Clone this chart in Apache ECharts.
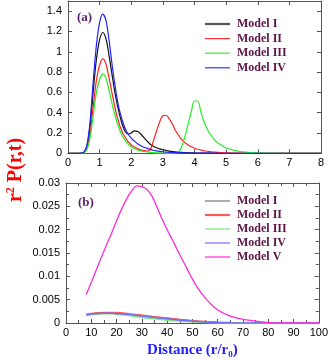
<!DOCTYPE html>
<html>
<head>
<meta charset="utf-8">
<script src="https://cdn.jsdelivr.net/npm/echarts@6/dist/echarts.min.js"></script>
<style>html,body{margin:0;padding:0;background:#fff;}#c{width:331px;height:360px;}</style>
</head>
<body>
<div id="c"></div>
<script>
// ---- Panel (a) data ----
var topX = [0,0.3,0.4,0.5,0.6,0.7,0.8,0.9,1.0,1.1,1.2,1.3,1.4,1.5,1.6,1.7,1.8,1.9,2.0,2.1,2.2,2.3,2.4,2.5,2.6,2.7,2.8,2.9,3.0,3.1,3.2,3.3,3.4,3.5,3.6,3.7,3.8,3.9,4.0,4.1,4.2,4.3,4.4,4.5,4.6,4.7,4.8,4.9,5.0,5.2,5.4,5.6,5.8,6.0,6.5,7.0,8.0];
var modelIa = [0,0,0.002,0.01,0.07,0.27,0.62,0.93,1.12,1.19,1.13,0.96,0.76,0.57,0.42,0.30,0.22,0.19,0.20,0.22,0.215,0.19,0.155,0.12,0.09,0.07,0.055,0.043,0.035,0.028,0.022,0.018,0.014,0.011,0.009,0.007,0.005,0.004,0.003,0.002,0.002,0.001,0.001,0.001,0.001,0,0,0,0,0,0,0,0,0,0,0,0];
var modelIIa = [0,0,0.001,0.008,0.05,0.2,0.47,0.72,0.87,0.93,0.88,0.74,0.58,0.43,0.31,0.22,0.16,0.115,0.085,0.062,0.046,0.034,0.026,0.022,0.035,0.12,0.22,0.31,0.37,0.375,0.34,0.29,0.225,0.175,0.135,0.105,0.082,0.064,0.05,0.04,0.032,0.025,0.02,0.016,0.012,0.01,0.008,0.006,0.005,0.003,0.002,0.001,0.0005,0,0,0,0];
var modelIIIa = [0,0,0.001,0.006,0.04,0.16,0.38,0.6,0.73,0.78,0.74,0.62,0.48,0.36,0.26,0.18,0.13,0.09,0.065,0.047,0.034,0.025,0.018,0.013,0.01,0.007,0.005,0.004,0.003,0.002,0.002,0.002,0.003,0.015,0.07,0.17,0.29,0.41,0.515,0.515,0.41,0.31,0.24,0.185,0.145,0.112,0.088,0.07,0.055,0.033,0.02,0.012,0.007,0.004,0.001,0,0];
var modelIVa = [0,0,0.002,0.012,0.08,0.32,0.72,1.07,1.29,1.37,1.31,1.11,0.86,0.64,0.46,0.34,0.25,0.19,0.15,0.12,0.095,0.075,0.06,0.048,0.038,0.03,0.024,0.019,0.015,0.012,0.01,0.008,0.007,0.006,0.005,0.004,0.003,0.003,0.002,0.002,0.002,0.001,0.001,0.001,0.001,0.001,0,0,0,0,0,0,0,0,0,0,0];
var namesA = ['Model I','Model II','Model III','Model IV'];

// ---- Panel (b) data ----
var smallX = [8,10,12,15,18,20,25,30,35,40,45,50,55,60,65,70,80,90,100];
var modelIb = [0.0017,0.0019,0.0021,0.0022,0.0022,0.00215,0.0019,0.0016,0.0013,0.001,0.0007,0.00045,0.00025,0.0001,0.00004,0.00001,0,0,0];
var modelIIb = [0.0018,0.002,0.0021,0.0022,0.0022,0.0022,0.0019,0.0016,0.0013,0.001,0.0007,0.00045,0.00025,0.0001,0.00004,0.00001,0,0,0];
var modelIIIb = [0.0016,0.0018,0.0019,0.002,0.002,0.0019,0.0016,0.0012,0.0009,0.0006,0.0004,0.00025,0.00012,0.00005,0.00002,0,0,0,0];
var modelIVb = [0.0017,0.0019,0.002,0.0021,0.0021,0.002,0.0018,0.0015,0.0012,0.0009,0.0006,0.0004,0.0002,0.0001,0.00004,0.00001,0,0,0];
var bigX = [8,10,12,14,16,18,20,22,24,26,28,30,32,34,36,38,40,42,44,46,48,50,52,54,56,58,60,62,64,66,68,70,72,75,80,85,90,100];
var modelVb = [0.0061,0.0087,0.0114,0.0141,0.0167,0.0192,0.0219,0.0244,0.0266,0.0283,0.0294,0.0292,0.0286,0.0272,0.0248,0.0223,0.0200,0.0179,0.0157,0.0136,0.0115,0.0094,0.0076,0.0061,0.0048,0.0037,0.0028,0.0022,0.0017,0.0013,0.001,0.0008,0.0006,0.0004,0.0001,0.00003,0,0];
var namesB = ['Model I','Model II','Model III','Model IV','Model V'];

// axis ticks
var xTicksA = {min:0, max:8, interval:1};
var yTicksA = {min:0, max:1.5, interval:0.2};
var xTicksB = {min:0, max:100, interval:10};
var yTicksB = {min:0, max:0.03, interval:0.005};

function zip(xs, ys){ return xs.map(function(x,i){ return [x, ys[i]]; }); }

var colA = ['#111111','#ff2020','#22ee22','#2222ff'];
var colB = ['#777777','#ff5a5a','#7de87d','#7070ff','#ff2ad8'];
var legA_col = ['#555555','#ff3030','#33ee33','#3333ff'];

var axisColor = '#555';
var lblStyle = {color:'#000', fontSize:11, fontFamily:'Liberation Sans, Arial, sans-serif'};

function mkX(grid, t, pos, showLabel, minor){
  return {
    type:'value', gridIndex:grid, position:pos, min:t.min, max:t.max, interval:t.interval,
    axisLine:{show:true, onZero:false, lineStyle:{color:axisColor, width:1}},
    axisTick:{show:true, inside:true, length:4, lineStyle:{color:axisColor}},
    minorTick:{show:!!minor, splitNumber:2, length:3, lineStyle:{color:axisColor}},
    axisLabel:Object.assign({show:showLabel, margin:4}, lblStyle),
    splitLine:{show:false}
  };
}
function mkY(grid, t, pos, showLabel, minor){
  return {
    type:'value', gridIndex:grid, position:pos, min:t.min, max:t.max, interval:t.interval,
    axisLine:{show:true, onZero:false, lineStyle:{color:axisColor, width:1}},
    axisTick:{show:true, inside:true, length:4, lineStyle:{color:axisColor}},
    minorTick:{show:!!minor, splitNumber:2, length:3, lineStyle:{color:axisColor}},
    axisLabel:Object.assign({show:showLabel, margin:6, showMaxLabel: t.max === 1.5 ? false : true}, lblStyle),
    splitLine:{show:false}
  };
}

var xAxes = [
  mkX(0, xTicksA, 'bottom', true, false),
  mkX(0, xTicksA, 'top', false, false),
  mkX(1, xTicksB, 'bottom', true, true),
  mkX(1, xTicksB, 'top', false, true)
];
xAxes[2].name = 'Distance (r/r{s|0})';
xAxes[2].nameLocation = 'middle';
xAxes[2].nameGap = 18;
xAxes[2].nameTextStyle = {color:'#1f1fff', fontSize:15, fontWeight:'bold', fontFamily:'Liberation Serif, Times New Roman, serif',
  rich:{s:{color:'#1f1fff', fontSize:9, fontWeight:'bold', fontFamily:'Liberation Serif, serif', padding:[9,0,0,0]}}};

var yAxes = [
  mkY(0, yTicksA, 'left', true, false),
  mkY(0, yTicksA, 'right', false, false),
  mkY(1, yTicksB, 'left', true, true),
  mkY(1, yTicksB, 'right', false, true)
];

var series = [];
var topData = [modelIa, modelIIa, modelIIIa, modelIVa];
topData.forEach(function(d, i){
  series.push({name:namesA[i], type:'line', xAxisIndex:0, yAxisIndex:0, data:zip(topX, d),
    smooth:0.35, symbol:'none', lineStyle:{color:colA[i], width:1.2}, itemStyle:{color:colA[i]}, z:2+i});
});
var botData = [modelIb, modelIIb, modelIIIb, modelIVb];
var botW = [1.5, 2, 1.5, 1.5];
botData.forEach(function(d, i){
  series.push({name:namesB[i] + ' ', type:'line', xAxisIndex:2, yAxisIndex:2, data:zip(smallX, d),
    smooth:0.35, symbol:'none', lineStyle:{color:colB[i], width:botW[i]}, itemStyle:{color:colB[i]}, z:2+i});
});
series.push({name:namesB[4] + ' ', type:'line', xAxisIndex:2, yAxisIndex:2, data:zip(bigX, modelVb),
  smooth:0.35, symbol:'none', lineStyle:{color:colB[4], width:1.3}, itemStyle:{color:colB[4]}, z:7});

var thin = 'path://M0,0H25V1.2H0Z';
var thick = 'path://M0,0H25V2.2H0Z';
var legText = {color:'#5e1446', fontSize:12, fontWeight:'bold', fontFamily:'Liberation Serif, Times New Roman, serif', lineHeight:12, padding:[0,0,0,2]};

var option = {
  animation:false,
  backgroundColor:'#fff',
  grid:[
    {left:68, top:1, width:253, height:152.3, show:false},
    {left:66, top:183, width:255, height:145, show:false}
  ],
  xAxis:xAxes,
  yAxis:yAxes,
  legend:[
    {orient:'vertical', left:205, top:18, padding:0, itemWidth:25, itemHeight:2.2, itemGap:2.6, textStyle:legText,
      data:namesA.map(function(n,i){ return {name:n, icon: i===0 ? thick : thin, itemStyle:{color:legA_col[i]}}; })},
    {orient:'vertical', left:205, top:195, padding:0, itemWidth:25, itemHeight:2.2, itemGap:2, textStyle:legText,
      data:namesB.map(function(n,i){ return {name:n + ' ', icon: i===1 ? thick : thin, itemStyle:{color:colB[i]}}; })}
  ],
  graphic:[
    {type:'text', x:77, y:18, style:{text:'(a)', fill:'#5a2470', font:'bold 13px "Liberation Serif", serif', verticalAlign:'middle', align:'left'}},
    {type:'text', x:78, y:203, style:{text:'(b)', fill:'#5a2470', font:'bold 13px "Liberation Serif", serif', verticalAlign:'middle', align:'left'}},
    {type:'text', x:16, y:170, rotation:Math.PI/2,
      style:{text:'r{sup|2} P(r,t)', fill:'#ff0000', font:'bold 20px "Liberation Serif", serif', align:'center', verticalAlign:'middle',
        rich:{sup:{fill:'#ff0000', font:'bold 12px "Liberation Serif", serif', padding:[0,0,10,0]}}}}
  ],
  series:series
};
var chart = echarts.init(document.getElementById('c'), null, {renderer:'canvas'});
chart.setOption(option);
</script>
</body>
</html>
